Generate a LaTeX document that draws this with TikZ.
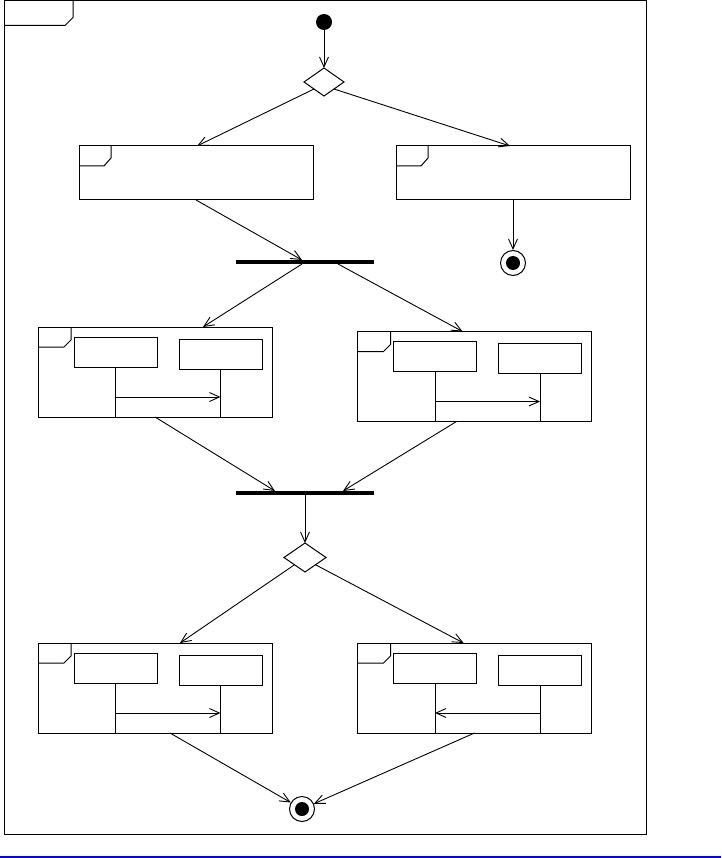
\documentclass[tikz,border=0pt]{standalone}
\usetikzlibrary{arrows.meta,shapes.geometric,calc}
\begin{document}
\begin{tikzpicture}[x=1pt,y=-1pt,
  line width=1pt,
  arr/.style={-{Straight Barb[length=10pt,width=9pt]}, line width=0.9pt},
  act/.style={draw, rectangle, inner sep=0, outer sep=0, minimum width=234pt, minimum height=54pt},
  comp/.style={draw, rectangle, inner sep=0, outer sep=0, minimum width=234pt, minimum height=90pt},
  life/.style={draw, rectangle, inner sep=0, outer sep=0, minimum width=83pt, minimum height=30pt},
  bar/.style={fill=black, rectangle, inner sep=0, outer sep=0, minimum width=138pt, minimum height=4pt},
  dec/.style={draw, diamond, inner sep=0, outer sep=0, minimum width=40pt, minimum height=28pt},
  start/.style={fill=black, circle, inner sep=0, minimum size=16pt},
  endo/.style={draw, circle, fill=white, inner sep=0, minimum size=25pt},
  endi/.style={fill=black, circle, inner sep=0, minimum size=14pt},
]
\useasboundingbox (0,0) rectangle (721,858);
% frame
\node[draw, rectangle, inner sep=0, outer sep=0, minimum width=642pt, minimum height=834pt, anchor=north west] (frame) at (4,0.5) {};
\draw (frame.north west) ++(69,0) -- ++(0,17) -- ++(-8,8) -- ++(-61,0);
% nodes
\node[start] (i) at (324,22) {};
\node[dec] (d1) at (324,82) {};
\node[act] (a1) at (196,173) {};
\node[act] (a2) at (513,173) {};
\node[endo] (f1) at (513,263) {};
\node[endi] (f1in) at (f1) {};
\node[bar] (b1) at (305,262) {};
\node[comp] (c1) at (155,372) {};
\node[comp] (c2) at (474.5,376.5) {};
\node[bar] (b2) at (305,493) {};
\node[dec, minimum width=42pt, minimum height=29pt] (d2) at (305,557.5) {};
\node[comp] (c3) at (155,688) {};
\node[comp] (c4) at (474.5,688) {};
\node[endo] (f2) at (302,809) {};
\node[endi] (f2in) at (f2) {};
% tags
\foreach \nn in {a1,a2}{
  \draw (\nn.north west) ++(32,0) -- ++(0,12) -- ++(-7,8) -- ++(-25,0);
}
\foreach \nn in {c1,c2,c3,c4}{
  \draw (\nn.north west) ++(33,0) -- ++(0,13) -- ++(-7,7) -- ++(-26,0);
  \node[life, anchor=north west] (\nn a) at ([shift={(36pt,-10pt)}]\nn.north west) {};
  \node[life, anchor=north west] (\nn b) at ([shift={(141pt,-12pt)}]\nn.north west) {};
  \draw (\nn a.south) -- (\nn a.south |- \nn.south);
  \draw (\nn b.south) -- (\nn b.south |- \nn.south);
  \path (\nn a.south |- \nn.south) ++(0,-20) coordinate (\nn ma);
  \path (\nn b.south |- \nn.south) ++(0,-20) coordinate (\nn mb);
}
\draw[arr] (c1ma) -- (c1mb);
\draw[arr] (c2ma) -- (c2mb);
\draw[arr] (c3ma) -- (c3mb);
\draw[arr] (c4mb) -- (c4ma);
% connectors
\draw[arr] (i) -- (d1.north);
\draw[arr] (d1.south west) -- ([xshift=1pt]a1.north);
\draw[arr] (d1.south east) -- ([xshift=-3pt]a2.north);
\draw[arr] (a2.south) -- (f1);
\draw[arr] (a1.south) -- ([xshift=-3pt]b1.north);
\draw[arr] ([xshift=-3pt]b1.south) -- ([xshift=48pt]c1.north);
\draw[arr] ([xshift=33pt]b1.south) -- ([xshift=-12pt]c2.north);
\draw[arr] (c1.south) -- ([xshift=-30pt]b2.north);
\draw[arr] ([xshift=-18pt]c2.south) -- ([xshift=38pt]b2.north);
\draw[arr] (b2.south) -- (d2.north);
\draw[arr] (d2.south west) -- ([xshift=25pt]c3.north);
\draw[arr] (d2.south east) -- ([xshift=-11pt]c4.north);
\draw[arr] ([xshift=15pt]c3.south) -- (f2);
\draw[arr] (c4.south) -- (f2);
% bottom rule
\draw[blue, line width=2pt] (0,857) -- (721,857);
\end{tikzpicture}
\end{document}
